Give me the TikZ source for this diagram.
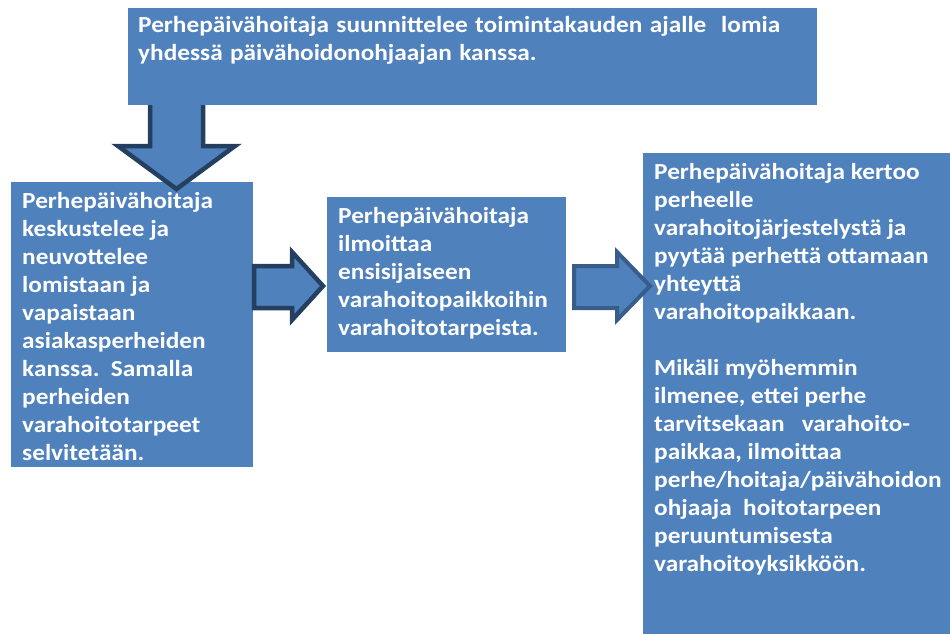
\documentclass[tikz,border=0pt]{standalone}
\usepackage{fontspec}
\setmainfont{Carlito}[FakeStretch=1.1]
\definecolor{boxblue}{HTML}{4F81BD}
\definecolor{arrdark}{HTML}{243F60}
\definecolor{arrmid}{HTML}{385D8A}
\begin{document}
\begin{tikzpicture}[x=1pt,y=-1pt,
  box/.style={fill=boxblue,draw=none},
  txt/.style={text=white,font=\fontsize{23}{28}\selectfont\bfseries,align=left,inner sep=0pt,anchor=base west,text width=400,
    execute at begin node={\spaceskip=0pt\xspaceskip=0pt}},
  blockarrow/.style={fill=boxblue,line width=4.5pt,line join=miter}]
\useasboundingbox (0,0) rectangle (950,634);
% left box
\path[box] (11,182) rectangle (253,467);
% down arrow (behind top box)
\draw[blockarrow,draw=arrdark] (150,100) -- (203,100) -- (203,146) -- (235,146) -- (176.5,189) -- (118,146) -- (150,146) -- cycle;
% top box
\path[box] (128,8) rectangle (817,105);
% middle box
\path[box] (327,197) rectangle (566,352);
% right box
\path[box] (643,153) rectangle (950,634);
% right arrows
\draw[blockarrow,draw=arrdark] (254,266) -- (292,266) -- (292,252) -- (323,286) -- (292,320) -- (292,308) -- (254,308) -- cycle;
\draw[blockarrow,draw=arrmid,line width=4pt] (574,266) -- (617,266) -- (617,252) -- (650,286) -- (617,320) -- (617,308) -- (574,308) -- cycle;
% texts
\node[txt,text width=680,execute at begin node={\spaceskip=0.32em\xspaceskip=0.32em}] (ttop) at (138,33) {Perhepäivähoitaja suunnittelee toimintakauden ajalle\ \ lomia\\yhdessä päivähoidonohjaajan kanssa.};
\node[txt] (tleft) at (22,208) {Perhepäivähoitaja\\keskustelee ja\\neuvottelee\\lomistaan ja\\vapaistaan\\asiakasperheiden\\kanssa.\ \ Samalla\\perheiden\\varahoitotarpeet\\selvitetään.};
\node[txt] (tmid) at (338,223) {Perhepäivähoitaja\\ilmoittaa\\ensisijaiseen\\varahoitopaikkoihin\\varahoitotarpeista.};
\node[txt] (tright) at (654,179) {Perhepäivähoitaja kertoo\\perheelle\\varahoitojärjestelystä ja\\pyytää perhettä ottamaan\\yhteyttä\\varahoitopaikkaan.\\[28pt]Mikäli myöhemmin\\ilmenee, ettei perhe\\tarvitsekaan\ \ \ varahoito-\\paikkaa, ilmoittaa\\perhe/hoitaja/päivähoidon\\ohjaaja\ \ hoitotarpeen\\peruuntumisesta\\varahoitoyksikköön.};
\end{tikzpicture}
\end{document}
